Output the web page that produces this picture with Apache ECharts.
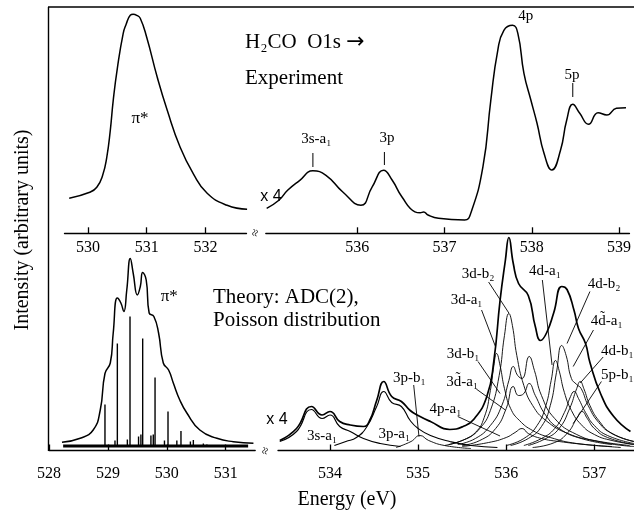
<!DOCTYPE html>
<html><head><meta charset="utf-8">
<script src="https://cdn.jsdelivr.net/npm/echarts@6/dist/echarts.min.js"></script>
<style>html,body{margin:0;padding:0;background:#fff}#c{width:634px;height:517px}</style>
</head><body><div id="c"></div>
<script>
const SERIF = '"Liberation Serif","Times New Roman",serif';
const SANS = '"Liberation Sans",Arial,sans-serif';

// ---------- tick labels ----------
const ticksTL = [530, 531, 532];
const ticksTR = [536, 537, 538, 539];
const ticksBL = [528, 529, 530, 531];
const ticksBR = [534, 535, 536, 537];

// ---------- experiment (top) : [energy eV, intensity a.u.] ----------
const expPi = [[529.68,35],[530.03,41],[530.15,46],[530.25,58],[530.32,76],[530.38,103],[530.43,133],[530.5,165],[530.6,200],[530.65,209],[530.72,218],[530.77,219],[530.83,218],[530.89,215],[531.0,196],[531.18,156],[531.35,123],[531.57,86],[531.79,60],[532.03,40],[532.37,28],[532.71,24]];
const expRyd = [[534.96,25],[535.1,33],[535.2,43],[535.34,53],[535.49,62.5],[535.64,58],[535.83,41.5],[536.04,28],[536.17,46.5],[536.3,63],[536.4,53],[536.51,36.5],[536.66,21.5],[536.72,20.5],[536.76,21.3],[536.81,18.3],[536.93,15],[537.23,13.3],[537.3,20],[537.44,66.6],[537.53,133],[537.61,183],[537.68,203],[537.78,208],[537.84,200],[537.91,160],[537.99,133],[538.06,110],[538.14,80],[538.23,63.3],[538.33,83.3],[538.4,113],[538.47,129],[538.55,120],[538.65,109],[538.76,120.6],[538.86,118.3],[538.97,125],[539.08,125.6]];

// ---------- theory (bottom) ----------
const thPiEnv = [[528.22,8.2],[528.53,12.2],[528.75,20.5],[528.87,40.5],[528.95,77],[529.04,87.5],[529.09,117.5],[529.16,152.5],[529.22,147.5],[529.27,139],[529.32,160.5],[529.38,192],[529.43,177],[529.5,155.5],[529.55,164],[529.59,178],[529.65,170.5],[529.7,137.5],[529.78,134],[529.86,117.5],[529.94,87.5],[530.03,80.5],[530.11,67.5],[530.22,50.5],[530.34,37.5],[530.56,20.5],[530.85,12.2],[531.13,8.8],[531.47,7.2]];
const thPiSticks = [[528.95,46],[529.16,107],[529.375,134],[529.59,112],[529.8,73],[530.02,39],[530.24,19.5],[530.45,10.5],[529.12,10],[529.33,11],[529.52,14],[529.56,16],[529.73,15],[529.77,16],[529.96,10],[530.17,10],[530.4,9],[530.62,7],[530.68,6]];
const stickBase = 4.5;
const stickRange = [528.24, 531.38];

const thRydTotal = [[533.43,10],[533.62,22],[533.79,44],[533.91,35.5],[534.0,39],[534.11,29],[534.23,25.5],[534.38,24],[534.45,30],[534.53,50],[534.61,69],[534.7,54],[534.81,49],[534.91,40],[535.0,35],[535.14,29],[535.36,21],[535.51,24],[535.63,31],[535.78,54],[535.86,90],[535.93,150],[535.99,190],[536.03,213],[536.08,187],[536.14,167],[536.25,155],[536.33,124],[536.39,110],[536.46,118],[536.54,138],[536.63,164],[536.69,161],[536.77,140],[536.82,122],[536.9,107],[536.95,88],[537.07,57],[537.22,34],[537.41,19]];
const c3sa1 = [[533.43,9],[533.62,19],[533.79,41],[533.91,32],[534.0,35.5],[534.11,24],[534.23,19],[534.38,12],[534.57,7],[534.8,4]];
const c3pa1 = [[534.05,5],[534.18,9],[534.3,13],[534.42,24],[534.53,44],[534.61,59],[534.7,48],[534.81,44],[534.91,30],[535.0,22],[535.14,15],[535.36,9],[535.6,5],[535.9,3]];
const c3pb1 = [[534.75,3],[534.92,9],[535.02,15],[535.12,10],[535.3,5],[535.6,2]];
const c3db1 = [[535.3,5],[535.5,10],[535.65,18],[535.75,33],[535.82,60],[535.86,85],[535.89,97],[535.93,85],[535.98,62],[536.05,42],[536.15,30],[536.3,20],[536.5,13],[536.8,7],[537.2,4]];
const c3db2 = [[535.35,6],[535.55,12],[535.7,22],[535.82,40],[535.92,75],[535.98,115],[536.03,137],[536.07,125],[536.12,95],[536.2,65],[536.3,45],[536.45,30],[536.7,17],[537.0,10],[537.4,5]];
const c3da1 = [[535.45,6],[535.65,12],[535.82,25],[535.95,45],[536.03,70],[536.08,84],[536.13,75],[536.18,72],[536.26,94],[536.32,80],[536.4,55],[536.55,32],[536.8,16],[537.1,8],[537.45,4]];
const c3dta1 = [[535.5,5],[535.7,10],[535.88,22],[536.0,42],[536.08,64],[536.14,55],[536.2,57],[536.26,67],[536.33,55],[536.45,35],[536.6,22],[536.85,12],[537.2,6]];
const c4pa1 = [[535.5,4],[535.8,8],[536.0,13],[536.1,18],[536.18,22],[536.25,17],[536.4,12],[536.6,9],[536.9,6],[537.3,3]];
const c4da1 = [[536.0,5],[536.2,12],[536.35,25],[536.45,45],[536.51,70],[536.56,90],[536.6,80],[536.66,58],[536.74,40],[536.85,26],[537.0,16],[537.2,10],[537.45,6]];
const c4db2 = [[536.05,5],[536.25,12],[536.4,24],[536.5,45],[536.57,78],[536.63,105],[536.68,95],[536.74,72],[536.8,66],[536.85,62],[536.93,45],[537.05,28],[537.2,17],[537.45,9]];
const c4dta1 = [[536.2,5],[536.4,12],[536.55,22],[536.66,38],[536.73,54],[536.77,59],[536.82,52],[536.9,38],[537.0,25],[537.15,15],[537.45,7]];
const c4db1 = [[536.25,5],[536.45,12],[536.6,22],[536.72,42],[536.8,62],[536.84,69],[536.88,62],[536.95,45],[537.05,30],[537.2,17],[537.45,9]];
const c5pb = [[536.3,3],[536.55,8],[536.7,18],[536.8,32],[536.86,39],[536.92,32],[537.0,22],[537.15,13],[537.45,6]];
const components = [c3pb1, c3db1, c3db2, c3da1, c3dta1, c4pa1, c4da1, c4db2, c4dta1, c4db1, c5pb];

// ---------- annotations (text, anchor in data units) ----------
const textTL = ['π*'];
const anchorTL = [[530.886,114.3]];
const textTR = ['3s-a\u2081', '3p', '4p', '5p'];
const anchorTR = [[535.53,94.3],[536.34,95.3],[537.93,216.8],[538.46,158.3]];
const pointerTR = [[535.49,80.3,535.49,66.3],[536.31,81.3,536.31,68.3],[538.47,150.3,538.47,136.3]];
const textBL = ['π*'];
const anchorBL = [[530.04,153.5]];
const textBR = ['3s-a\u2081','3p-a\u2081','3p-b\u2081','4p-a\u2081','3d\u0303-a\u2081','3d-b\u2081','3d-a\u2081','3d-b\u2082','4d-a\u2081','4d-b\u2082','4d\u0303-a\u2081','4d-b\u2081','5p-b\u2081'];
const anchorBR = [[533.91,14.5],[534.73,16.5],[534.9,72.5],[535.31,41.5],[535.5,68.5],[535.51,96.5],[535.55,150.5],[535.68,176.5],[536.44,179.5],[537.11,166.5],[537.14,129.5],[537.26,99.5],[537.26,75.5]];
const pointerBR = [[534.95,65.5,535.01,13.8],[535.45,34,535.93,14.5],[535.66,61.5,535.99,40.5],[535.68,89,535.93,57],[535.72,140.5,535.88,103.5],[535.8,168.5,536.03,137.5],[536.41,170.5,536.52,85.5],[536.95,159,536.69,107],[536.99,120.5,536.76,84],[537.1,93.5,536.84,67.5],[537.08,69,536.76,27]];

// ---------- chart ----------
const chart = echarts.init(document.getElementById('c'), null, {renderer: 'canvas'});
const grids = [
  {left: 64.5, top: 7, width: 182, height: 226.3},
  {left: 265.8, top: 7, width: 367.4, height: 226.3},
  {left: 49, top: 230, width: 206.2, height: 220.5},
  {left: 278, top: 230, width: 356, height: 220.5}
];
function xa(gi, min, max, ticks, margin) {
  return {
    type: 'value', gridIndex: gi, min: min, max: max,
    axisLine: {show: true, onZero: false, lineStyle: {color: '#000', width: 1.3}},
    axisTick: {show: true, inside: true, length: 6, customValues: ticks, lineStyle: {color: '#000', width: 1.3}},
    axisLabel: {show: true, customValues: ticks, color: '#000', fontFamily: SERIF, fontSize: 16, margin: margin},
    splitLine: {show: false}
  };
}
function ya(gi, max) {
  return {type: 'value', gridIndex: gi, min: 0, max: max, show: false};
}
function ln(gi, data, w) {
  return {type: 'line', xAxisIndex: gi, yAxisIndex: gi, data: data, symbol: 'none', showSymbol: false,
    smooth: 0.5, clip: false, silent: true, animation: false,
    lineStyle: {color: '#000', width: w, join: 'round'}};
}
function texts(gi, anchors, labels, size) {
  return {type: 'custom', xAxisIndex: gi, yAxisIndex: gi, data: anchors, silent: true, clip: false,
    renderItem: function (params, api) {
      const p = api.coord([api.value(0), api.value(1)]);
      return {type: 'text', x: p[0], y: p[1],
        style: {text: labels[params.dataIndex], fill: '#000', font: size + 'px ' + SERIF,
          align: 'center', verticalAlign: 'middle', textAlign: 'center', textVerticalAlign: 'middle'}};
    }};
}
function pointers(gi, segs, w) {
  return {type: 'custom', xAxisIndex: gi, yAxisIndex: gi, data: segs, silent: true, clip: false,
    renderItem: function (params, api) {
      const a = api.coord([api.value(0), api.value(1)]);
      const b = api.coord([api.value(2), api.value(3)]);
      return {type: 'line', shape: {x1: a[0], y1: a[1], x2: b[0], y2: b[1]},
        style: {stroke: '#000', lineWidth: w}};
    }};
}

const series = [
  ln(0, expPi, 1.5),
  ln(1, expRyd, 1.5),
  ln(2, thPiEnv, 1.5),
  ln(2, [[stickRange[0], stickBase], [stickRange[1], stickBase]], 3),
  {type: 'custom', xAxisIndex: 2, yAxisIndex: 2, data: thPiSticks, silent: true, clip: false,
    renderItem: function (params, api) {
      const a = api.coord([api.value(0), stickBase]);
      const b = api.coord([api.value(0), api.value(1)]);
      return {type: 'line', shape: {x1: a[0], y1: a[1], x2: b[0], y2: b[1]}, style: {stroke: '#000', lineWidth: 1.4}};
    }},
  ln(3, thRydTotal, 1.7),
  ln(3, c3sa1, 1.2),
  ln(3, c3pa1, 1.1),
  texts(0, anchorTL, textTL, 17),
  texts(1, anchorTR, textTR, 15),
  pointers(1, pointerTR, 1),
  texts(2, anchorBL, textBL, 17),
  texts(3, anchorBR, textBR, 15),
  pointers(3, pointerBR, 0.9)
];
components.forEach(function (c) { series.push(ln(3, c, 0.9)); });

chart.setOption({
  backgroundColor: '#fff',
  animation: false,
  grid: grids,
  xAxis: [xa(0, 529.6, 532.7, ticksTL, 6), xa(1, 534.95, 539.12, ticksTR, 6), xa(2, 528, 531.5, ticksBL, 15), xa(3, 533.41, 537.45, ticksBR, 15)],
  yAxis: [ya(0, 226.3), ya(1, 226.3), ya(2, 220.5), ya(3, 220.5)],
  series: series,
  graphic: [
    {type: 'line', shape: {x1: 48, y1: 7, x2: 634, y2: 7}, style: {stroke: '#000', lineWidth: 1.4}},
    {type: 'line', shape: {x1: 48.5, y1: 7, x2: 48.5, y2: 451}, style: {stroke: '#000', lineWidth: 1.4}},
    {type: 'text', x: 256, y: 233, rotation: 1.3, style: {text: '\u2248', font: '13px ' + SERIF, fill: '#000', align: 'center', verticalAlign: 'middle'}},
    {type: 'text', x: 266, y: 451, rotation: 1.3, style: {text: '\u2248', font: '13px ' + SERIF, fill: '#000', align: 'center', verticalAlign: 'middle'}},
    {type: 'text', x: 245, y: 42, style: {text: 'H\u2082CO  O1s {a|\u2192}', font: '21px ' + SERIF, fill: '#000', align: 'left', verticalAlign: 'middle',
      rich: {a: {font: '22px "DejaVu Sans"', fill: '#000'}}}},
    {type: 'text', x: 245, y: 78, style: {text: 'Experiment', font: '21px ' + SERIF, fill: '#000', align: 'left', verticalAlign: 'middle'}},
    {type: 'text', x: 213, y: 297, style: {text: 'Theory: ADC(2),', font: '21px ' + SERIF, fill: '#000', align: 'left', verticalAlign: 'middle'}},
    {type: 'text', x: 213, y: 320, style: {text: 'Poisson distribution', font: '21px ' + SERIF, fill: '#000', align: 'left', verticalAlign: 'middle'}},
    {type: 'text', x: 271, y: 197, style: {text: 'x 4', font: '16px ' + SANS, fill: '#000', align: 'center', verticalAlign: 'middle'}},
    {type: 'text', x: 277, y: 420, style: {text: 'x 4', font: '16px ' + SANS, fill: '#000', align: 'center', verticalAlign: 'middle'}},
    {type: 'text', x: 347, y: 500, style: {text: 'Energy (eV)', font: '20px ' + SERIF, fill: '#000', align: 'center', verticalAlign: 'middle'}},
    {type: 'text', x: 23, y: 230, rotation: Math.PI / 2, style: {text: 'Intensity (arbitrary units)', font: '20px ' + SERIF, fill: '#000', align: 'center', verticalAlign: 'middle'}}
  ]
});
</script>
</body></html>
